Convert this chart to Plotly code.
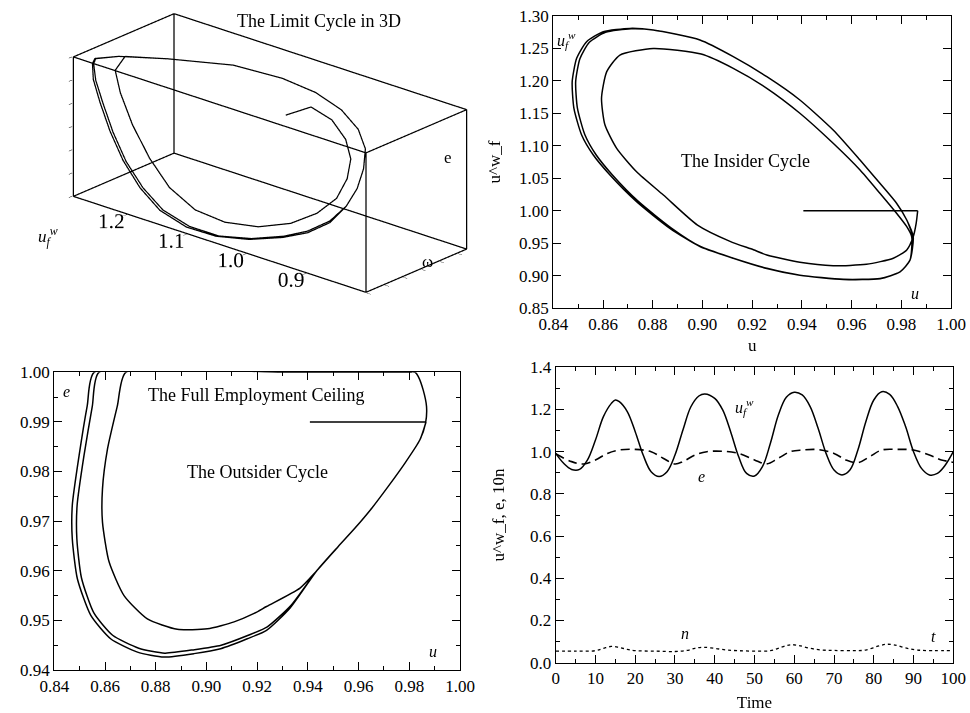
import plotly.graph_objects as go

FONT = "Liberation Serif"

# ---------------- Insider cycle: (u, u^w_f) ----------------
ins_u = [0.9406, 0.9866, 0.9860, 0.9848,
         0.9822, 0.9768, 0.9660, 0.9526, 0.9392, 0.9259, 0.9205, 0.9111, 0.8980,
         0.8843, 0.8735, 0.8655, 0.8608, 0.8594, 0.8615, 0.8668, 0.8802,
         0.8995, 0.9124, 0.9259, 0.9392, 0.9526, 0.9634, 0.9714, 0.9781, 0.9822, 0.9842,
         0.9835, 0.9795, 0.9715, 0.9567, 0.9392, 0.9259, 0.9124, 0.8990, 0.8869, 0.8735,
         0.8628, 0.8561, 0.8514, 0.8483, 0.8476, 0.8494, 0.8534, 0.8601, 0.8708,
         0.8802, 0.8990, 0.9124, 0.9259, 0.9392, 0.9526, 0.9634, 0.9714, 0.9781, 0.9822, 0.9848,
         0.9835, 0.9795, 0.9715, 0.9567, 0.9392, 0.9259, 0.9124, 0.8990, 0.8875, 0.8742,
         0.8637, 0.8572, 0.8527, 0.8497, 0.8490, 0.8507, 0.8545, 0.8610, 0.8713,
         0.8805, 0.8990, 0.9124, 0.9259, 0.9392, 0.9526, 0.9634, 0.9714, 0.9781, 0.9822, 0.9848]
ins_uf = [1.0000, 1.0000, 0.9810, 0.9600,
          0.9397, 0.9270, 0.9177, 0.9155, 0.9207, 0.9320, 0.9400, 0.9530, 0.9780,
          1.0242, 1.0600, 1.0960, 1.1318, 1.1730, 1.2139, 1.2395, 1.2497,
          1.2410, 1.2190, 1.1883, 1.1500, 1.1038, 1.0627, 1.0269, 0.9961, 0.9755, 0.9600,
          0.9240, 0.9060, 0.8960, 0.8946, 0.9010, 0.9115, 0.9270, 0.9450, 0.9730, 1.0140,
          1.0550, 1.0857, 1.1165, 1.1575, 1.1985, 1.2344, 1.2600, 1.2754, 1.2805,
          1.2780, 1.2626, 1.2370, 1.2062, 1.1704, 1.1242, 1.0780, 1.0422, 1.0115, 0.9858, 0.9600,
          0.9240, 0.9060, 0.8955, 0.8944, 0.9008, 0.9113, 0.9270, 0.9455, 0.9735, 1.0145,
          1.0555, 1.0862, 1.1170, 1.1578, 1.1985, 1.2338, 1.2592, 1.2745, 1.2798,
          1.2778, 1.2626, 1.2370, 1.2062, 1.1704, 1.1242, 1.0780, 1.0422, 1.0115, 0.9858, 0.9600]

# ---------------- Outsider cycle: (u, e) ----------------
out_u = [0.9408, 0.9866, 0.9842,
         0.9783, 0.9717, 0.9652, 0.9586, 0.9520, 0.9435,
         0.9369, 0.9237, 0.9188, 0.9109, 0.9004, 0.8885, 0.8767, 0.8675, 0.8616, 0.8590,
         0.8590, 0.8610, 0.8649, 0.8682,
         0.9300, 0.9823, 0.9836, 0.9855, 0.9868, 0.9864, 0.9842,
         0.9783, 0.9717, 0.9652, 0.9586, 0.9520, 0.9435,
         0.9330, 0.9237, 0.9161, 0.9056, 0.8951, 0.8833, 0.8728, 0.8622, 0.8544, 0.8491,
         0.8471, 0.8471, 0.8498, 0.8530, 0.8557,
         0.9300, 0.9823, 0.9836, 0.9855, 0.9868, 0.9864, 0.9842,
         0.9783, 0.9717, 0.9652, 0.9586, 0.9520, 0.9435,
         0.9333, 0.9240, 0.9165, 0.9058, 0.8953, 0.8836, 0.8733, 0.8630, 0.8556, 0.8507,
         0.8489, 0.8490, 0.8517, 0.8550, 0.8576,
         0.9300, 0.9810]
out_e = [0.9900, 0.9900, 0.9864,
         0.9817, 0.9770, 0.9726, 0.9686, 0.9649, 0.9600,
         0.9565, 0.9528, 0.9514, 0.9497, 0.9483, 0.9482, 0.9503, 0.9550, 0.9618, 0.9698,
         0.9765, 0.9846, 0.9933, 1.0000,
         1.0000, 1.0000, 0.9991, 0.9964, 0.9931, 0.9897, 0.9864,
         0.9817, 0.9770, 0.9726, 0.9686, 0.9649, 0.9600,
         0.9525, 0.9480, 0.9463, 0.9443, 0.9433, 0.9426, 0.9436, 0.9463, 0.9510, 0.9584,
         0.9664, 0.9732, 0.9833, 0.9933, 1.0000,
         1.0000, 1.0000, 0.9991, 0.9964, 0.9931, 0.9897, 0.9864,
         0.9817, 0.9770, 0.9726, 0.9686, 0.9649, 0.9600,
         0.9530, 0.9487, 0.9470, 0.9450, 0.9441, 0.9434, 0.9444, 0.9470, 0.9515, 0.9586,
         0.9664, 0.9732, 0.9832, 0.9932, 1.0000,
         1.0000, 1.0000]

# ---------------- Time series ----------------
t_uf = [0, 2, 4, 6, 8, 10, 12, 14, 15, 16, 18, 20, 22, 24, 26, 28, 30, 32, 34, 36, 37.5,
        40, 42, 44, 46, 48, 50, 52, 54, 56, 58, 60, 62, 64, 66, 68, 70, 72, 74, 76, 78,
        80, 82, 84, 86, 88, 90, 92, 94, 96, 98, 100]
v_uf = [0.992, 0.945, 0.916, 0.916, 0.961, 1.055, 1.166, 1.229, 1.245, 1.237, 1.190, 1.095,
        0.984, 0.905, 0.882, 0.905, 0.984, 1.103, 1.213, 1.264, 1.274,
        1.253, 1.198, 1.095, 0.977, 0.897, 0.885, 0.929, 1.040, 1.174, 1.258, 1.282, 1.269,
        1.214, 1.111, 0.992, 0.913, 0.890, 0.913, 1.008, 1.142,
        1.245, 1.284, 1.272, 1.214, 1.119, 1.000, 0.921, 0.890, 0.897, 0.937, 1.000]
t_e = [0, 4, 7, 10, 13, 16, 20, 24, 27, 30, 32, 35, 38, 42, 46, 50, 53, 56, 59, 62, 66,
       70, 73, 76, 79, 82, 86, 90, 94, 97, 100]
v_e = [0.990, 0.953, 0.942, 0.961, 0.992, 1.008, 1.011, 1.000, 0.969, 0.942, 0.953, 0.984,
       1.000, 1.002, 0.992, 0.961, 0.942, 0.969, 1.000, 1.008, 1.010,
       0.992, 0.961, 0.948, 0.977, 1.008, 1.011, 1.008, 0.984, 0.961, 0.950]
t_n = [0, 5, 10, 12, 14, 16, 18, 20, 25, 30, 33, 35, 37, 40, 43, 46, 50, 54, 57, 59, 61,
       64, 67, 70, 75, 78, 81, 83, 85, 88, 91, 95, 100]
v_n = [0.055, 0.055, 0.057, 0.068, 0.077, 0.072, 0.063, 0.057, 0.055, 0.053, 0.058, 0.068,
       0.073, 0.068, 0.060, 0.057, 0.055, 0.057, 0.075, 0.085, 0.082,
       0.068, 0.060, 0.058, 0.057, 0.060, 0.078, 0.087, 0.085, 0.070, 0.060, 0.057, 0.058]

# ---------------- 3D limit cycle: (u^w_f, omega, e) ----------------
c3_uf = [1.011, 1.005,
         0.969, 0.9435, 0.9304, 0.9288, 0.9374, 0.9586, 0.989, 1.0286, 1.0716, 1.1105,
         1.146, 1.1762, 1.2047, 1.2266, 1.2376, 1.242,
         1.196, 1.120, 1.0445, 0.990,
         0.9506, 0.924, 0.9105, 0.909, 0.912, 0.921, 0.937, 0.963, 0.9835, 1.0223, 1.0614,
         1.1055, 1.1462, 1.178, 1.2064, 1.229, 1.2476, 1.261, 1.266, 1.265, 1.248,
         1.196, 1.120, 1.0445, 0.990,
         0.9506, 0.924, 0.9105, 0.909, 0.912, 0.921, 0.937, 0.963, 0.9855, 1.0263, 1.0664,
         1.1105, 1.1512, 1.183, 1.2114, 1.234, 1.2526, 1.265, 1.268, 1.266, 1.248,
         1.196, 1.120, 1.0445]
c3_w = [0.940, 0.9875,
        0.986, 0.983, 0.977, 0.967, 0.955, 0.940, 0.922, 0.903, 0.886, 0.872,
        0.862, 0.858, 0.858, 0.860, 0.863, 0.8903,
        0.924, 0.9676, 0.976, 0.978,
        0.983, 0.985, 0.983, 0.977, 0.967, 0.955, 0.940, 0.925, 0.900, 0.880, 0.860,
        0.853, 0.848, 0.846, 0.846, 0.847, 0.849, 0.851, 0.853, 0.856, 0.8846,
        0.924, 0.9676, 0.976, 0.978,
        0.983, 0.985, 0.983, 0.977, 0.967, 0.955, 0.940, 0.925, 0.900, 0.880, 0.860,
        0.853, 0.848, 0.846, 0.846, 0.847, 0.849, 0.851, 0.853, 0.856, 0.8846,
        0.924, 0.9676, 0.976]
c3_e = [0.990, 0.990,
        0.9876, 0.9816, 0.9748, 0.9673, 0.9591, 0.9522, 0.9468, 0.9436, 0.9434, 0.9466,
        0.9541, 0.9645, 0.9764, 0.9882, 0.9967, 1.000,
        1.000, 1.000, 1.000, 0.9983,
        0.9937, 0.9874, 0.9803, 0.9724, 0.9645, 0.9572, 0.9507, 0.9454, 0.9436, 0.9410, 0.9405,
        0.9415, 0.9456, 0.9526, 0.9616, 0.9722, 0.9831, 0.9915, 0.998, 1.000, 1.000,
        1.000, 1.000, 1.000, 0.9983,
        0.9937, 0.9874, 0.9803, 0.9724, 0.9645, 0.9572, 0.9500, 0.9447, 0.9429, 0.9403, 0.9400,
        0.9408, 0.9450, 0.9522, 0.9616, 0.9722, 0.9831, 0.9915, 0.998, 1.000, 1.000,
        1.000, 1.000, 1.000]

uf_range = [0.80, 1.29]
w_range = [0.84, 1.06]
e_range = [0.94, 1.00]
uf_ticks = [0.9, 1.0, 1.1, 1.2]

W, H = 970, 713
fig = go.Figure()

# ---- 3D panel ----
# frame of the box, built from the axis ranges
bx, by, bz = [], [], []
xs = uf_range
ys = [-w_range[1], -w_range[0]]
zs = e_range
for yy in ys:
    for zz in zs:
        bx += [xs[0], xs[1], None]; by += [yy, yy, None]; bz += [zz, zz, None]
for xx in xs:
    for zz in zs:
        bx += [xx, xx, None]; by += [ys[0], ys[1], None]; bz += [zz, zz, None]
for xx in xs:
    for yy in ys:
        bx += [xx, xx, None]; by += [yy, yy, None]; bz += [zs[0], zs[1], None]
fig.add_trace(go.Scatter3d(x=bx, y=by, z=bz, mode="lines",
                           line=dict(color="black", width=2.5),
                           hoverinfo="skip", showlegend=False))
fig.add_trace(go.Scatter3d(x=c3_uf, y=[-v for v in c3_w], z=c3_e, mode="lines",
                           line=dict(color="black", width=2.5),
                           hoverinfo="skip", showlegend=False))

def padded(r, f=0.003):
    s = (r[1] - r[0]) * f
    return [r[0] - s, r[1] + s]

ax3 = dict(showbackground=False, showgrid=False, zeroline=False, showline=False,
           showspikes=False, ticks="outside", ticklen=5, tickcolor="black",
           tickfont=dict(family=FONT, size=16, color="black"), title=dict(text=""))
fig.update_layout(scene=dict(
    domain=dict(x=[30 / W, 509.5 / W], y=[1 - 306 / H, 1.0]),
    xaxis=dict(ax3, range=padded(uf_range), tickvals=uf_ticks, tickangle=0,
               ticktext=["%.1f" % v for v in uf_ticks]),
    yaxis=dict(ax3, range=padded(ys), dtick=0.04, showticklabels=False),
    zaxis=dict(ax3, range=padded(e_range), tick0=0.94, dtick=0.01, showticklabels=False),
    aspectmode="manual", aspectratio=dict(x=2.555, y=1.006, z=0.989),
    camera=dict(eye=dict(x=-1.518, y=1.737, z=0.934), up=dict(x=0, y=0, z=1),
                center=dict(x=0, y=0, z=0), projection=dict(type="orthographic")),
    bgcolor="rgba(0,0,0,0)"))

# ---- 2D panels ----
line_kw = dict(color="black", width=1.5)
fig.add_trace(go.Scatter(x=out_u[:2], y=out_e[:2], mode="lines", line=line_kw,
                         xaxis="x", yaxis="y", showlegend=False))
fig.add_trace(go.Scatter(x=out_u[1:], y=out_e[1:], mode="lines",
                         line=dict(line_kw, shape="spline", smoothing=0.6),
                         xaxis="x", yaxis="y", showlegend=False))
fig.add_trace(go.Scatter(x=ins_u[:2], y=ins_uf[:2], mode="lines", line=line_kw,
                         xaxis="x2", yaxis="y2", showlegend=False))
fig.add_trace(go.Scatter(x=ins_u[1:], y=ins_uf[1:], mode="lines",
                         line=dict(line_kw, shape="spline", smoothing=0.6),
                         xaxis="x2", yaxis="y2", showlegend=False))
fig.add_trace(go.Scatter(x=t_uf, y=v_uf, mode="lines",
                         line=dict(color="black", width=1.5, shape="spline"),
                         xaxis="x3", yaxis="y3", showlegend=False))
fig.add_trace(go.Scatter(x=t_e, y=v_e, mode="lines",
                         line=dict(color="black", width=1.6, dash="9px,5px", shape="spline"),
                         xaxis="x3", yaxis="y3", showlegend=False))
fig.add_trace(go.Scatter(x=t_n, y=v_n, mode="lines",
                         line=dict(color="black", width=1.3, dash="dot", shape="spline"),
                         xaxis="x3", yaxis="y3", showlegend=False))

tickfont = dict(family=FONT, size=17, color="black")
def axis(domain, rng, dtick, mdtick, fmt, **kw):
    d = dict(domain=domain, range=rng, dtick=dtick, tickformat=fmt, automargin=False,
             showline=True, linecolor="black", linewidth=1.3, mirror="ticks",
             ticks="inside", ticklen=8, tickwidth=1.1, tickcolor="black",
             showgrid=False, zeroline=False, tickfont=tickfont)
    if mdtick:
        d["minor"] = dict(dtick=mdtick, ticks="inside", ticklen=4, tickcolor="black",
                          tickwidth=1, showgrid=False)
    d.update(kw)
    return d

fig.update_layout(
    xaxis=axis([54.3 / W, 460 / W], [0.84, 1.00], 0.02, 0.01, ".2f", anchor="y"),
    yaxis=axis([1 - 670 / H, 1 - 372.3 / H], [0.94, 1.00], 0.01, 0.005, ".2f", anchor="x"),
    xaxis2=axis([553.3 / W, 951 / W], [0.84, 1.00], 0.02, 0.01, ".2f", anchor="y2",
                title=dict(text="u", font=dict(family=FONT, size=17), standoff=6)),
    yaxis2=axis([1 - 308.3 / H, 1 - 15.7 / H], [0.85, 1.30], 0.05, None, ".2f", anchor="x2",
                title=dict(text="u^w_f", font=dict(family=FONT, size=17), standoff=14)),
    xaxis3=axis([555.7 / W, 953.3 / W], [0, 100], 10, 5, "d", anchor="y3",
                title=dict(text="Time", font=dict(family=FONT, size=17), standoff=8)),
    yaxis3=axis([1 - 662.7 / H, 1 - 367.3 / H], [0, 1.4], 0.2, 0.1, ".1f", anchor="x3",
                title=dict(text="u^w_f, e, 10n", font=dict(family=FONT, size=17), standoff=20)),
)

ann = []
def txt(x, y, s, xref, yref, size=18):
    ann.append(dict(x=x, y=y, text=s, xref=xref, yref=yref, showarrow=False,
                    xanchor="center", yanchor="middle",
                    font=dict(family=FONT, size=size, color="black")))

UFW = "<i>u</i><sub><i>f</i></sub><sup><i>w</i></sup>"
txt(319 / W, 1 - 21 / H, "The Limit Cycle in 3D", "paper", "paper")
txt(48 / W, 1 - 236 / H, UFW, "paper", "paper", 17)
txt(427 / W, 1 - 262 / H, "ω", "paper", "paper", 17)
txt(448 / W, 1 - 158 / H, "e", "paper", "paper", 17)
txt(0.9175, 1.0765, "The Insider Cycle", "x2", "y2")
txt(0.8452, 1.262, UFW, "x2", "y2", 16)
txt(0.9855, 0.873, "<i>u</i>", "x2", "y2", 16)
txt(0.9195, 0.9954, "The Full Employment Ceiling", "x", "y")
txt(0.920, 0.9799, "The Outsider Cycle", "x", "y")
txt(0.8449, 0.9961, "<i>e</i>", "x", "y", 16)
txt(0.9894, 0.9437, "<i>u</i>", "x", "y", 16)
txt(47.6, 1.213, UFW, "x3", "y3", 16)
txt(36.7, 0.8815, "<i>e</i>", "x3", "y3", 16)
txt(32.5, 0.139, "<i>n</i>", "x3", "y3", 16)
txt(95.0, 0.123, "<i>t</i>", "x3", "y3", 16)

fig.update_layout(width=W, height=H, margin=dict(l=0, r=0, t=0, b=0, autoexpand=False),
                  paper_bgcolor="white", plot_bgcolor="white",
                  font=dict(family=FONT, size=17, color="black"),
                  annotations=ann, showlegend=False, hovermode=False)

fig.write_html("out.html", config={"displayModeBar": False},
               post_script="document.body.style.margin='0px';"
                           "document.body.style.overflow='hidden';")
